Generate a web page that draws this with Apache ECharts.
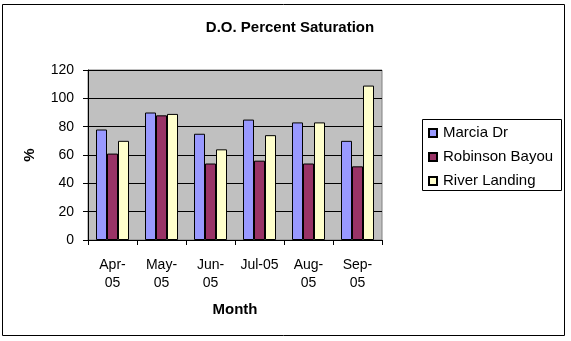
<!DOCTYPE html>
<html>
<head>
<meta charset="utf-8">
<script src="https://cdn.jsdelivr.net/npm/echarts@6/dist/echarts.min.js"></script>
<style>
  html, body { margin: 0; padding: 0; background: #fff; }
  #chart { width: 571px; height: 341px; }
</style>
</head>
<body>
<div id="chart"></div>
<script>
// Monthly dissolved-oxygen saturation (%) at three sampling stations
const months = ['Apr-\n05', 'May-\n05', 'Jun-\n05', 'Jul-05', 'Aug-\n05', 'Sep-\n05'];
const marciaDr = [78, 90, 75, 85, 83, 70];
const robinsonBayou = [61, 88, 54, 56, 54, 52];
const riverLanding = [70, 89, 64, 74, 83, 109];
const yTicks = { min: 0, max: 120, interval: 20 };

const FONT = '"Liberation Sans", Arial, sans-serif';

const chart = echarts.init(document.getElementById('chart'), null, { renderer: 'canvas' });

function barSeries(name, data, color) {
  return {
    name: name,
    type: 'bar',
    data: data,
    barWidth: 11,
    barGap: '0%',
    itemStyle: { color: color, borderColor: '#000', borderWidth: 1 }
  };
}

chart.setOption({
  backgroundColor: '#fff',
  animation: false,
  textStyle: { fontFamily: FONT },
  title: {
    text: 'D.O. Percent Saturation',
    left: 285,
    textAlign: 'center',
    top: 15,
    textStyle: { fontFamily: FONT, fontSize: 15, fontWeight: 'bold', color: '#000' }
  },
  graphic: [
    {
      type: 'rect',
      shape: { x: 2.5, y: 4.5, width: 562, height: 331 },
      style: { fill: 'none', stroke: '#000', lineWidth: 1 },
      silent: true
    },
    {
      type: 'rect',
      shape: { x: 422.5, y: 119.5, width: 139, height: 71 },
      style: { fill: '#fff', stroke: '#000', lineWidth: 1 },
      silent: true,
      z: 0
    }
  ],
  legend: {
    orient: 'vertical',
    left: 423,
    top: 120,
    itemWidth: 8,
    itemHeight: 8,
    itemGap: 8,
    icon: 'rect',
    z: 5,
    textStyle: { fontFamily: FONT, fontSize: 15, color: '#000', lineHeight: 16, padding: [0, 0, 0, 1] },
    data: ['Marcia Dr', 'Robinson Bayou', 'River Landing']
  },
  grid: {
    left: 88,
    right: 189,
    top: 70,
    bottom: 101,
    show: true,
    backgroundColor: '#C0C0C0',
    borderColor: '#808080',
    borderWidth: 1
  },
  xAxis: {
    type: 'category',
    data: months,
    name: 'Month',
    nameLocation: 'middle',
    nameGap: 62,
    nameTextStyle: { fontFamily: FONT, fontSize: 15, fontWeight: 'bold', color: '#000' },
    axisLine: { lineStyle: { color: '#000', width: 1 } },
    axisTick: { show: true, length: 5, alignWithLabel: false, lineStyle: { color: '#000' } },
    axisLabel: {
      interval: 0,
      margin: 16,
      fontFamily: FONT,
      fontSize: 14,
      lineHeight: 18,
      color: '#000'
    }
  },
  yAxis: {
    type: 'value',
    min: yTicks.min,
    max: yTicks.max,
    interval: yTicks.interval,
    name: '%',
    nameLocation: 'middle',
    nameGap: 51,
    nameRotate: 90,
    nameTextStyle: { fontFamily: FONT, fontSize: 15, fontWeight: 'bold', color: '#000' },
    axisLine: { show: true, lineStyle: { color: '#000', width: 1 } },
    axisTick: { show: true, length: 5, lineStyle: { color: '#000' } },
    axisLabel: { margin: 14, fontFamily: FONT, fontSize: 14, color: '#000' },
    splitLine: { show: true, lineStyle: { color: '#000', width: 1 } }
  },
  series: [
    barSeries('Marcia Dr', marciaDr, '#9999FF'),
    barSeries('Robinson Bayou', robinsonBayou, '#993366'),
    barSeries('River Landing', riverLanding, '#FFFFCC')
  ]
});
</script>
</body>
</html>
